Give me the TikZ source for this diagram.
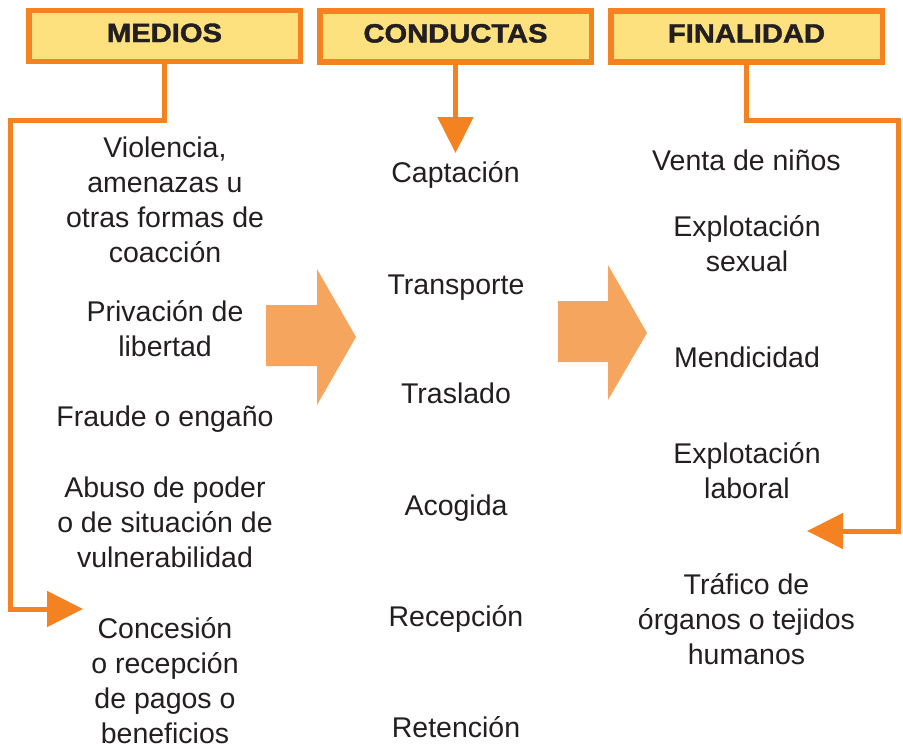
\documentclass[tikz,border=0pt]{standalone}
\usepackage{fontspec}
\setmainfont{Liberation Sans}
\newfontfamily\headfont{Liberation Sans}[BoldFeatures={FakeBold=1.6,FakeStretch=1.1}]
\usetikzlibrary{arrows.meta}
\definecolor{naranja}{HTML}{F58220}
\definecolor{amarillo}{HTML}{FEE17F}
\definecolor{flecha}{HTML}{F6A55E}
\definecolor{texto}{HTML}{231F20}
\begin{document}
\begin{tikzpicture}[x=1pt,y=-1pt,
    cabecera/.style={draw=naranja,fill=amarillo,line width=5.5pt,minimum width=271.5pt,minimum height=51pt,
        text height=19pt,text depth=7pt,font=\headfont\bfseries\fontsize{26.5}{30}\selectfont,text=texto},
    item/.style={align=center,font=\fontsize{28.5}{35}\selectfont,text=texto,inner sep=0pt},
    conector/.style={draw=naranja,line width=5pt,-{Triangle[length=36pt,width=35pt]}}]
    \useasboundingbox (0,0) rectangle (903,748);
    % cabeceras
    \node[cabecera] (medios) at (164.5,36) {MEDIOS};
    \node[cabecera] (conductas) at (455.5,36.5) {CONDUCTAS};
    \node[cabecera] (finalidad) at (746.5,36.5) {FINALIDAD};
    % medios
    \node[item] (violencia) at (165,200) {Violencia,\\amenazas u\\otras formas de\\coacción};
    \node[item] (privacion) at (165,328.5) {Privación de\\libertad};
    \node[item] (fraude) at (165,419) {Fraude o engaño};
    \node[item] (abuso) at (165,522) {Abuso de poder\\o de situación de\\vulnerabilidad};
    \node[item] (concesion) at (165,680.5) {Concesión\\o recepción\\de pagos o\\beneficios};
    % conductas
    \node[item] (captacion) at (455.5,175) {Captación};
    \node[item] (transporte) at (456,288) {Transporte};
    \node[item] (traslado) at (456,393) {Traslado};
    \node[item] (acogida) at (456,508) {Acogida};
    \node[item] (recepcion) at (456,619) {Recepción};
    \node[item] (retencion) at (456,727) {Retención};
    % finalidad
    \node[item] (venta) at (746.5,160) {Venta de niños};
    \node[item] (sexual) at (747,243.5) {Explotación\\sexual};
    \node[item] (mendicidad) at (747,357) {Mendicidad};
    \node[item] (laboral) at (747,470.5) {Explotación\\laboral};
    \node[item] (trafico) at (746.5,619) {Tráfico de\\órganos o tejidos\\humanos};
    % conectores
    \coordinate (finmedios) at (83,609);
    \coordinate (finconductas) at (455.5,153);
    \coordinate (finfinalidad) at (807,531);
    \draw[conector] (medios.south) |- (10,120) |- (finmedios);
    \draw[conector] (conductas.south) -- (finconductas);
    \draw[conector] (finalidad.south) |- (898,120) |- (finfinalidad);
    % flechas grandes
    \fill[flecha] (266,305) -- (317,305) -- (317,269) -- (356,337) -- (317,405) -- (317,366) -- (266,366) -- cycle;
    \fill[flecha] (558,301) -- (608,301) -- (608,265) -- (647,333) -- (608,400) -- (608,362) -- (558,362) -- cycle;
\end{tikzpicture}
\end{document}
